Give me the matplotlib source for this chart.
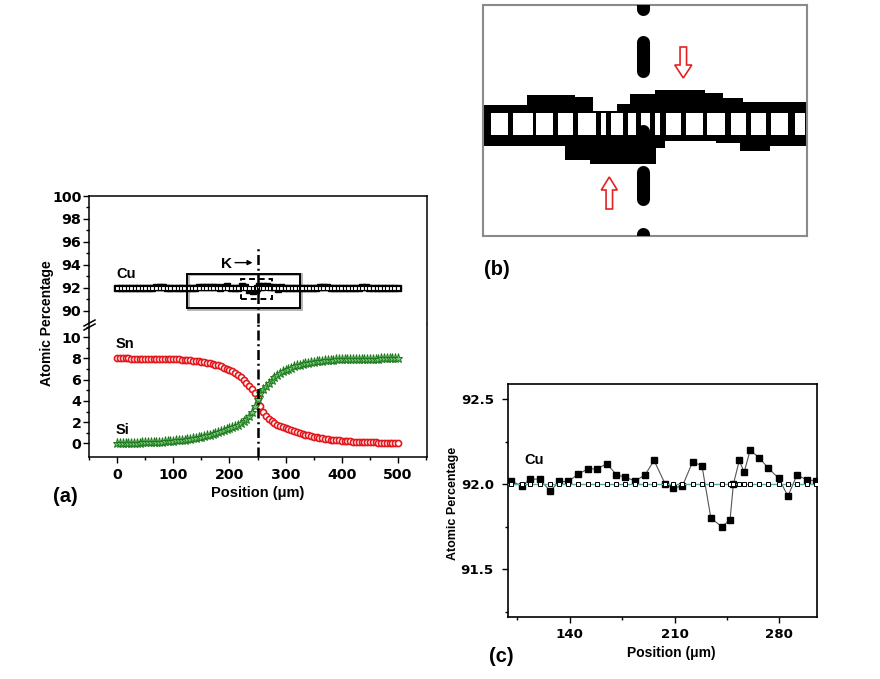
import numpy as np
import matplotlib
matplotlib.use("Agg")
import matplotlib.pyplot as plt
from matplotlib.patches import Rectangle, FancyArrow
from matplotlib.lines import Line2D

W, H, DPI = 880, 679, 100
plt.rcParams['font.family'] = ['Liberation Sans', 'DejaVu Sans']

# ---------------- panel (a) data ----------------
pos_a = np.arange(0, 501, 5)
sn_vals = [8.00, 8.00, 8.00, 8.00, 8.00, 7.99, 7.99, 7.99, 7.99, 7.99,
           7.99, 7.99, 7.98, 7.98, 7.98, 7.97, 7.97, 7.96, 7.96, 7.95,
           7.94, 7.93, 7.92, 7.90, 7.88, 7.86, 7.84, 7.81, 7.78, 7.75,
           7.71, 7.67, 7.62, 7.56, 7.49, 7.42, 7.34, 7.25, 7.15, 7.04,
           6.92, 6.78, 6.62, 6.44, 6.22, 5.97, 5.70, 5.42, 5.12, 4.75,
           4.25, 3.55, 2.95, 2.60, 2.32, 2.08, 1.90, 1.75, 1.62, 1.51,
           1.41, 1.31, 1.22, 1.13, 1.05, 0.97, 0.90, 0.83, 0.76, 0.70,
           0.64, 0.58, 0.53, 0.48, 0.44, 0.40, 0.36, 0.33, 0.30, 0.27,
           0.24, 0.22, 0.20, 0.18, 0.16, 0.15, 0.13, 0.12, 0.11, 0.10,
           0.09, 0.08, 0.08, 0.07, 0.06, 0.06, 0.05, 0.05, 0.05, 0.04,
           0.04]
si_vals = [0.03, 0.03, 0.04, 0.04, 0.05, 0.05, 0.06, 0.06, 0.07, 0.08,
           0.09, 0.10, 0.11, 0.12, 0.13, 0.15, 0.16, 0.18, 0.20, 0.22,
           0.24, 0.27, 0.30, 0.33, 0.36, 0.40, 0.44, 0.48, 0.53, 0.58,
           0.64, 0.70, 0.76, 0.83, 0.90, 0.97, 1.05, 1.13, 1.22, 1.31,
           1.41, 1.51, 1.62, 1.75, 1.90, 2.08, 2.32, 2.60, 2.98, 3.50,
           4.15, 4.75, 5.10, 5.42, 5.70, 5.97, 6.22, 6.44, 6.62, 6.78,
           6.92, 7.04, 7.15, 7.25, 7.34, 7.42, 7.49, 7.56, 7.62, 7.67,
           7.71, 7.75, 7.78, 7.81, 7.84, 7.86, 7.88, 7.90, 7.92, 7.93,
           7.94, 7.95, 7.96, 7.96, 7.97, 7.97, 7.98, 7.98, 7.98, 7.99,
           7.99, 7.99, 7.99, 7.99, 8.00, 8.00, 8.00, 8.00, 8.00, 8.00,
           8.00]

# Cu: measured (filled squares) and calculated (open squares)
cu_pos = [0.0, 6.3, 12.6, 18.9, 25.2, 31.5, 37.8, 44.1, 50.4, 56.7,
          63.0, 69.3, 75.6, 81.9, 88.2, 94.5,
          100.7, 107.8, 113.6, 119.8, 126.9, 132.9, 138.9, 145.8, 152.0, 158.0,
          164.7, 171.1, 177.1, 183.8, 190.3, 196.3, 203.6, 209.1, 215.3, 222.0,
          228.3, 234.3, 241.6, 247.1, 249.3, 253.3, 256.5, 260.5, 266.5, 272.7,
          279.6, 285.8, 291.8, 298.3, 304.3,
          310.6, 316.9, 323.2, 329.5, 335.8, 342.1, 348.4, 354.7, 361.0, 367.3,
          373.6, 379.9, 386.2, 392.5, 398.8, 405.1, 411.4, 417.7, 424.0, 430.3,
          436.6, 442.9, 449.2, 455.5, 461.8, 468.1, 474.4, 480.7, 487.0, 493.3,
          499.6]
cu_exp = [92.00, 91.98, 92.02, 92.00, 91.97, 92.01, 92.03, 92.00, 91.99, 92.02,
          92.00, 92.04, 92.06, 92.05, 92.02, 92.00,
          92.018, 91.99, 92.03, 92.03, 91.96, 92.016, 92.016, 92.06, 92.09, 92.09,
          92.12, 92.057, 92.04, 92.02, 92.055, 92.14, 92.004, 91.977, 91.99, 92.13,
          92.11, 91.80, 91.75, 91.79, 92.00, 92.14, 92.07, 92.20, 92.157, 92.094,
          92.035, 91.93, 92.055, 92.026, 92.02,
          91.98, 92.00, 92.03, 92.01, 91.97, 92.00, 92.02, 91.99, 92.04, 92.06,
          92.05, 92.02, 91.98, 92.00, 92.01, 92.03, 92.00, 91.96, 91.98, 92.02,
          92.05, 92.04, 92.01, 92.00, 91.98, 92.00, 92.02, 92.01, 91.99, 92.00,
          92.00]
cu_sim = [92.0] * len(cu_pos)

interface_x = 250
a_x_ticks = [0, 100, 200, 300, 400, 500]
a_up_ticks = [90, 92, 94, 96, 98, 100]
a_lo_ticks = [0, 2, 4, 6, 8, 10]
c_x_ticks = [140, 210, 280]
c_y_ticks = [91.5, 92.0, 92.5]

# ---------------- panel (b) schematic (zoomed view) ----------------
b_up_x = [0, 43.3, 91.7, 110, 133.3, 146.7, 171.7, 221.7, 240, 260, 324]
b_up_top = [100, 90, 92.3, 105.7, 99.3, 89, 85, 87.7, 93.3, 96.7, 96.7]
b_low_x = [0, 81.4, 106.4, 173, 181.4, 233, 256.4, 286.4, 324]
b_low_bot = [140.7, 155, 159, 143.3, 136, 138.3, 145.7, 140.7, 140.7]
b_sq_left = [8, 29.7, 53, 74.7, 94.7, 118, 128, 144.7, 158, 171.4, 183, 203, 223.7, 248, 268, 288, 311.4]
b_sq_right = [25, 49.7, 69.7, 89.7, 113, 122.4, 139.7, 153, 166.4, 176.4, 198, 219.7, 241.4, 263, 283, 305, 321.4]
b_dash = [(-2, 3.5), (36.5, 65.5), (95.5, 98.5), (125.5, 128.5), (166.5, 193.5), (228.5, 236)]

fig = plt.figure(figsize=(W / DPI, H / DPI), dpi=DPI)
fig.patch.set_facecolor('white')


def rect(l, t, r, b):
    return [l / W, 1 - b / H, (r - l) / W, (b - t) / H]


def fx(px):
    return px / W


def fy(py):
    return 1 - py / H


def tick_font(ax, size):
    for lab in ax.get_xticklabels() + ax.get_yticklabels():
        lab.set_fontfamily('DejaVu Sans')
        lab.set_fontweight('bold')
        lab.set_fontsize(size)


# ================= panel (a) =================
ax_up = fig.add_axes(rect(89, 196, 426.7, 323.5))
ax_lo = fig.add_axes(rect(89, 323.5, 426.7, 456.7))

ax_up.plot(cu_pos, cu_exp, ls='none', marker='s', ms=3.8, mfc='k', mec='k', zorder=3)
ax_up.plot(cu_pos, cu_sim, ls='none', marker='s', ms=3.0, mfc='white', mec='k', mew=0.8, zorder=4)
ax_up.add_patch(Rectangle((127, 90.15), 200, 3.1, fill=False, ec='#b0b0b0', lw=2.0, zorder=1))
ax_up.add_patch(Rectangle((125, 90.25), 200, 3.0, fill=False, ec='k', lw=1.4, zorder=5))
ax_up.add_patch(Rectangle((220, 91.0), 55, 1.74, fill=False, ec='k', lw=1.4,
                          ls=(0, (3, 2)), zorder=5))
ax_up.plot([interface_x, interface_x], [88.9, 95.6], color='k', lw=1.8,
           ls=(0, (4, 1.5, 0.8, 1.5)), zorder=6)
ax_up.annotate('', xy=(246, 94.2), xytext=(205, 94.2),
               arrowprops=dict(arrowstyle='-|>', color='k', lw=1.0, mutation_scale=7))
ax_up.text(195, 94.05, 'K', ha='center', va='center', fontsize=11, fontweight='bold')
ax_up.text(-2, 93.2, 'Cu', ha='left', va='center', fontsize=10.5, fontweight='bold')

ax_lo.plot(pos_a, sn_vals, ls='none', marker='o', ms=4.4, mfc='white', mec='#e3171c', mew=1.2, zorder=3)
ax_lo.plot(pos_a, si_vals, ls='none', marker='*', ms=6.5, mfc='#7cc47c', mec='#1c7a1c', mew=0.7, zorder=4)
ax_lo.axvline(interface_x, color='k', lw=1.8, ls=(0, (4, 1.5, 0.8, 1.5)), zorder=6)
ax_lo.text(-2, 9.4, 'Sn', ha='left', va='center', fontsize=10.5, fontweight='bold')
ax_lo.text(-2, 1.25, 'Si', ha='left', va='center', fontsize=10.5, fontweight='bold')

for ax in (ax_up, ax_lo):
    ax.set_xlim(-50, 551)
    for s in ax.spines.values():
        s.set_linewidth(1.1)
    ax.tick_params(direction='out', width=1.0, length=4, pad=1.5, right=False, top=False)
    ax.tick_params(which='minor', direction='out', width=1.0, length=2.5, right=False, top=False)

ax_up.set_ylim(88.9, 100)
ax_up.set_yticks(a_up_ticks)
ax_up.set_yticks([91, 93, 95, 97, 99], minor=True)
ax_up.spines['bottom'].set_visible(False)
ax_up.tick_params(which='both', bottom=False, labelbottom=False)

ax_lo.set_ylim(-1.26, 11.3)
ax_lo.set_yticks(a_lo_ticks)
ax_lo.set_yticks([1, 3, 5, 7, 9, 11], minor=True)
ax_lo.spines['top'].set_visible(False)
ax_lo.set_xticks(a_x_ticks)
ax_lo.set_xticks([-50, 50, 150, 250, 350, 450, 550], minor=True)
ax_lo.tick_params(axis='x', pad=4)
tick_font(ax_up, 10.3)
tick_font(ax_lo, 10.3)

# break marks on left spine
for off in (0, 4):
    fig.add_artist(Line2D([fx(84), fx(95)], [fy(326 + off), fy(320 + off)], color='k', lw=1.1))

fig.text(fx(47), fy(323), 'Atomic Percentage', rotation=90, ha='center', va='center',
         fontsize=10, fontweight='bold')
fig.text(fx(258), fy(493), 'Position (\u03bcm)', ha='center', va='center',
         fontsize=10.5, fontweight='bold')
fig.text(fx(65), fy(497), '(a)', ha='center', va='center', fontsize=14.5, fontweight='bold')

# ================= panel (b) =================
ax_b = fig.add_axes(rect(483.3, 5, 806.7, 236))
ax_b.set_xlim(0, 323.4)
ax_b.set_ylim(231, 0)
ax_b.fill_between(b_up_x, b_up_top, 120, step='post', color='k', lw=0)
ax_b.fill_between(b_low_x, 120, b_low_bot, step='post', color='k', lw=0)
sq_w = [r - l for l, r in zip(b_sq_left, b_sq_right)]
ax_b.bar(b_sq_left, 21.7, width=sq_w, bottom=108.3, align='edge', color='white', lw=0, zorder=2)
for s, e in b_dash:
    ax_b.plot([160, 160], [s, e], color='k', lw=9.4, solid_capstyle='round', zorder=3)
ax_b.add_patch(FancyArrow(200, 42, 0, 31, width=6.5, head_width=17, head_length=13,
                          length_includes_head=True, fc='white', ec='#e52222', lw=1.2, zorder=4))
ax_b.add_patch(FancyArrow(126, 204, 0, -32, width=6.5, head_width=16, head_length=13,
                          length_includes_head=True, fc='white', ec='#e52222', lw=1.2, zorder=4))
ax_b.set_xticks([])
ax_b.set_yticks([])
for s in ax_b.spines.values():
    s.set_color('#8a8a8a')
    s.set_linewidth(1.5)
fig.text(fx(497), fy(270), '(b)', ha='center', va='center', fontsize=14.5, fontweight='bold')

# ================= panel (c) =================
ax_c = fig.add_axes(rect(507.7, 384, 816.7, 616.7))
ax_c.plot(cu_pos, cu_exp, '-', color='#555555', lw=0.8, marker='s', ms=5.0, mfc='k', mec='k', zorder=3)
ax_c.plot(cu_pos, cu_sim, '-', color='#5aa9a9', lw=1.0, marker='s', ms=3.0, mfc='white',
          mec='k', mew=0.7, zorder=4)
ax_c.set_xlim(98.5, 305)
ax_c.set_ylim(91.22, 92.59)
ax_c.set_xticks(c_x_ticks)
ax_c.set_xticks([105, 175, 245], minor=True)
ax_c.set_yticks(c_y_ticks)
ax_c.set_yticks([91.25, 91.75, 92.25], minor=True)
ax_c.yaxis.set_major_formatter(matplotlib.ticker.FormatStrFormatter('%.1f'))
for s in ax_c.spines.values():
    s.set_linewidth(1.2)
ax_c.tick_params(direction='out', width=1.0, length=4, right=False, top=False)
ax_c.tick_params(which='minor', direction='out', width=1.0, length=2.5, right=False, top=False)
ax_c.tick_params(axis='y', pad=6)
ax_c.tick_params(axis='x', pad=4)
tick_font(ax_c, 9.6)
ax_c.text(109.5, 92.145, 'Cu', ha='left', va='center', fontsize=10.5, fontweight='bold')
fig.text(fx(453), fy(503), 'Atomic Percentage', rotation=90, ha='center', va='center',
         fontsize=9, fontweight='bold')
fig.text(fx(671), fy(653), 'Position (\u03bcm)', ha='center', va='center',
         fontsize=10, fontweight='bold')
fig.text(fx(501), fy(657), '(c)', ha='center', va='center', fontsize=14.5, fontweight='bold')

fig.savefig('out.png', dpi=DPI, facecolor='white')
